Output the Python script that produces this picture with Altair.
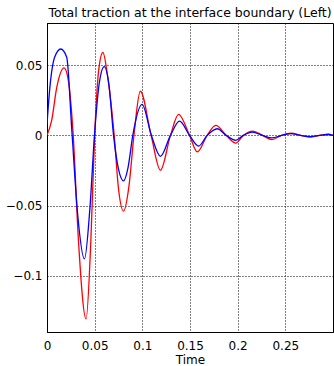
import altair as alt
import pandas as pd

# Blue series
blue_t = [0, 0.003, 0.008, 0.0144, 0.0207, 0.026, 0.032, 0.0393, 0.045, 0.0498,
          0.055, 0.060, 0.065, 0.0698, 0.075, 0.0803, 0.085, 0.090, 0.0997, 0.1095,
          0.119, 0.1295, 0.139, 0.1495, 0.159, 0.168, 0.1786, 0.188, 0.198, 0.206,
          0.2154, 0.226, 0.236, 0.246, 0.256, 0.266, 0.276, 0.286, 0.295, 0.300]
blue_v = [0.008, 0.034, 0.0556, 0.0615, 0.0556, 0.004, -0.055, -0.088, -0.052, 0.0,
          0.038, 0.049, 0.036, 0.0, -0.024, -0.0324, -0.023, 0.0, 0.022, 0.0,
          -0.0149, 0.0, 0.0101, 0.0, -0.0076, 0.0, 0.0047, 0.0, -0.0035, 0.0,
          0.0023, 0.0, -0.0018, 0.0, 0.0012, 0.0, -0.0009, 0.0, 0.0006, 0.0]

# Red series
red_t = [0, 0.0049, 0.0102, 0.0179, 0.0224, 0.0275, 0.033, 0.041, 0.046, 0.0500,
         0.054, 0.0586, 0.064, 0.0705, 0.075, 0.0803, 0.086, 0.0912, 0.0979, 0.1092,
         0.119, 0.1295, 0.138, 0.1495, 0.1576, 0.168, 0.177, 0.188, 0.198, 0.206,
         0.216, 0.226, 0.236, 0.246, 0.256, 0.266, 0.276, 0.286, 0.295, 0.300]
red_v = [0.0, 0.0106, 0.034, 0.048, 0.039, 0.0, -0.075, -0.1307, -0.075, 0.0,
         0.045, 0.059, 0.040, 0.0, -0.038, -0.0539, -0.036, 0.0, 0.0314, 0.0,
         -0.0248, 0.0, 0.0149, 0.0, -0.0118, 0.0, 0.0071, 0.0, -0.0055, 0.0,
         0.003, 0.0, -0.003, 0.0, 0.0015, 0.0, -0.0012, 0.0, 0.0008, 0.0]

x_ticks = [0, 0.05, 0.1, 0.15, 0.2, 0.25]
y_ticks = [-0.1, -0.05, 0, 0.05]

df = pd.concat([
    pd.DataFrame({"t": red_t, "v": red_v, "s": "red"}),
    pd.DataFrame({"t": blue_t, "v": blue_v, "s": "blue"}),
])

label_expr = "datum.value == 0 ? '0' : replace(format(datum.value, '.2~f'), '-', '\u2212')"
font = "DejaVu Sans"

chart = alt.Chart(df).mark_line(interpolate="monotone", strokeWidth=1.3, clip=True).encode(
    x=alt.X("t:Q", title="Time",
            scale=alt.Scale(domain=[0, 0.3], nice=False, zero=False),
            axis=alt.Axis(values=x_ticks, labelExpr=label_expr, grid=True,
                          gridDash=[1, 2], gridColor="#000", gridOpacity=1,
                          ticks=False, labelPadding=8, labelFontSize=12,
                          labelFont=font, labelColor="#000", titleFont=font,
                          titleFontSize=12, titleFontWeight="normal", titleColor="#000",
                          titlePadding=3, domainColor="#000", labelFlush=False)),
    y=alt.Y("v:Q", title=None,
            scale=alt.Scale(domain=[-0.14, 0.08], nice=False, zero=False),
            axis=alt.Axis(values=y_ticks, labelExpr=label_expr, grid=True,
                          gridDash=[1, 2], gridColor="#000", gridOpacity=1,
                          ticks=False, labelPadding=5, labelFontSize=12,
                          labelFont=font, labelColor="#000", domainColor="#000")),
    color=alt.Color("s:N", scale=alt.Scale(domain=["red", "blue"], range=["#ff0000", "#0000ff"]), legend=None),
    detail="s:N",
    order=alt.Order("t:Q"),
).properties(
    width=286, height=309,
    title=alt.TitleParams("Total traction at the interface boundary (Left)", font=font,
                          fontSize=12.5, fontWeight="normal", color="#000", offset=4),
    autosize=alt.AutoSizeParams(type="none"),
    padding={"left": 47, "top": 23, "right": 1, "bottom": 34},
).configure_view(stroke="#000", strokeWidth=1)

chart.save("out.html", embed_options={"renderer": "svg", "actions": False})
